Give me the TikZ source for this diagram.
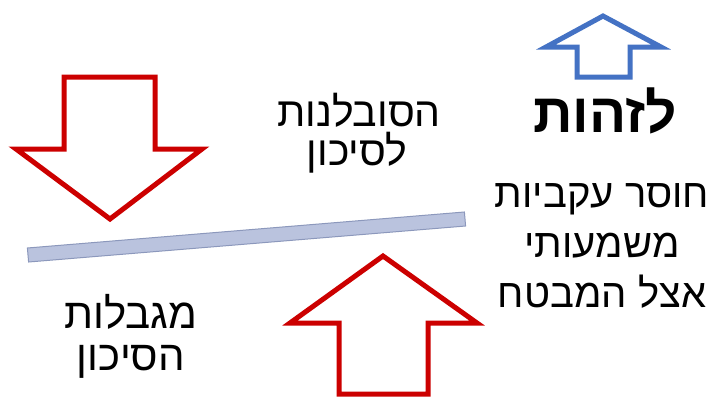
\documentclass[tikz,border=0pt]{standalone}
\usepackage{fontspec}
\newfontfamily\heb[Script=Hebrew]{Liberation Sans}
\TeXXeTstate=1
\begin{document}
\begin{tikzpicture}[x=1pt,y=-1pt,
  txt/.style={anchor=base,inner sep=0pt,font=\heb\fontsize{#1}{#1}\selectfont}]
\definecolor{barfill}{HTML}{BAC3DE}
\definecolor{baredge}{HTML}{8C98BC}
\definecolor{arrowblue}{HTML}{4472C4}
\definecolor{arrowred}{HTML}{CC0000}
\tikzset{
  redarrow/.style={draw=arrowred,line width=5pt,line join=miter,fill=white},
  bluearrow/.style={draw=arrowblue,line width=5pt,line join=miter,fill=white},
  barstyle/.style={fill=barfill,draw=baredge,line width=1pt}}
\useasboundingbox[fill=white] (0,0) rectangle (718,397);
% blue up arrow
\draw[bluearrow]
  (603,16) -- (661,47) -- (630,47) -- (630,77) -- (577,77) -- (577,47) -- (546,47) -- cycle;
% red down arrow
\draw[redarrow]
  (64,77) -- (155,77) -- (155,149) -- (202,149) -- (110,219) -- (16,149) -- (64,149) -- cycle;
% red up arrow
\draw[redarrow]
  (383,256) -- (477,323) -- (428,323) -- (428,394) -- (339,394) -- (339,323) -- (290,323) -- cycle;
% bar
\draw[barstyle]
  (27.4,248) -- (464.4,212) -- (465.6,226) -- (28.6,262) -- cycle;
% texts
\node[txt=55] (t1) at (605,132) {\bfseries\beginR לזהות\endR};
\node[txt=41] (t2a) at (359,126) {\beginR הסובלנות\endR};
\node[txt=41] (t2b) at (357,165) {\beginR לסיכון\endR};
\node[txt=40] (t3a) at (602,207) {\beginR חוסר עקביות\endR};
\node[txt=40] (t3b) at (602,257) {\beginR משמעותי\endR};
\node[txt=40] (t3c) at (602,307) {\beginR אצל המבטח\endR};
\node[txt=42] (t4a) at (131,328) {\beginR מגבלות\endR};
\node[txt=42] (t4b) at (131,370) {\beginR הסיכון\endR};
\end{tikzpicture}
\end{document}
